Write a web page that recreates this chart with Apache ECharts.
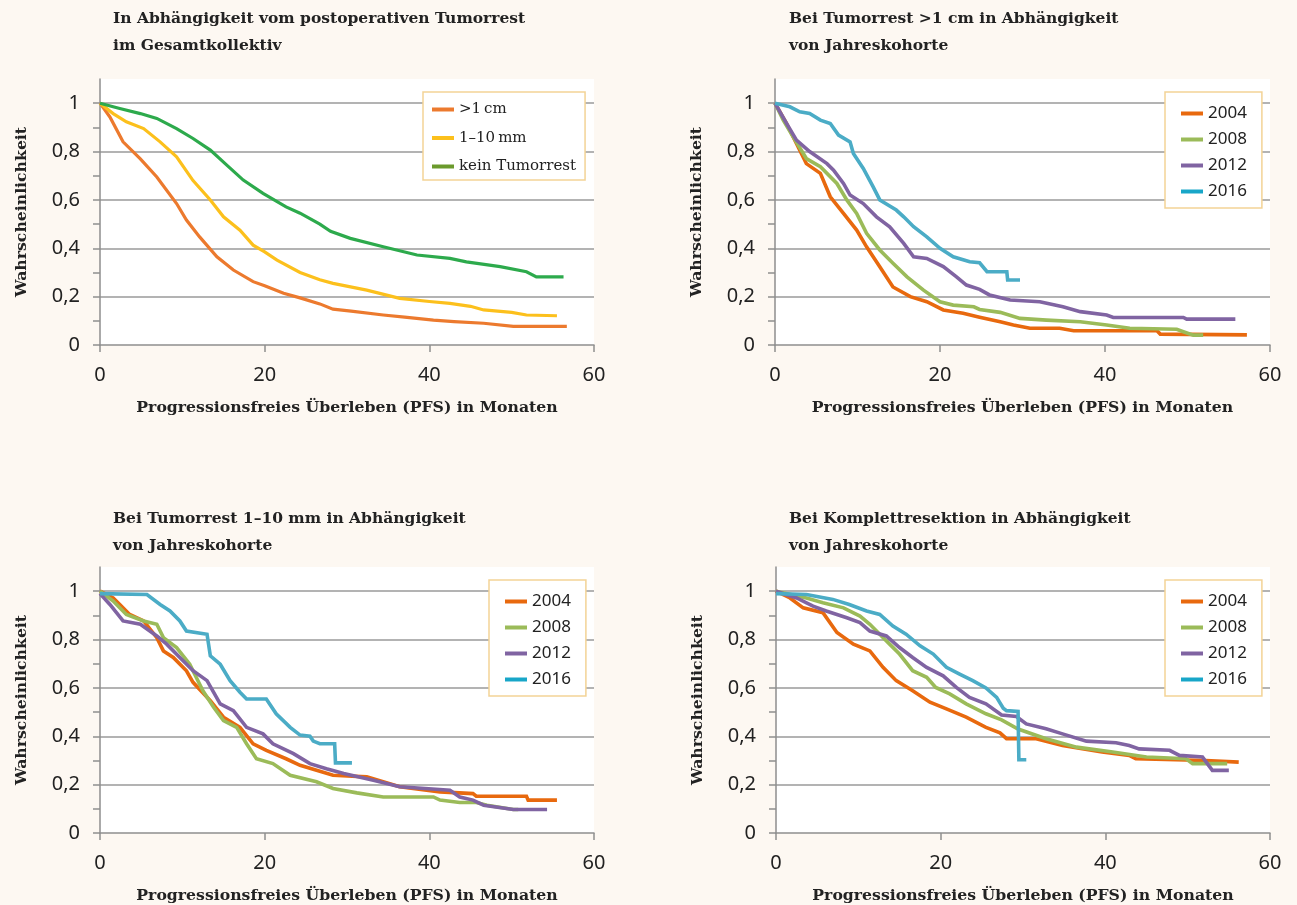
<!DOCTYPE html>
<html><head><meta charset="utf-8">
<script src="https://cdn.jsdelivr.net/npm/echarts@6/dist/echarts.min.js"></script>
<style>html,body{margin:0;padding:0;background:#fdf8f2;}#c{width:1297px;height:905px;}</style>
</head><body><div id="c"></div>
<script>
// ---- data ----
const xTicks = [0, 20, 40, 60];
const yLabelValues = [0, 0.2, 0.4, 0.6, 0.8, 1];
const yTickValues = [0, 0.1, 0.2, 0.3, 0.4, 0.5, 0.6, 0.7, 0.8, 0.9, 1];
const gridValues = [0.2, 0.4, 0.6, 0.8, 1];

const titles = [
  'In Abhängigkeit vom postoperativen Tumorrest\nim Gesamtkollektiv',
  'Bei Tumorrest >1 cm in Abhängigkeit\nvon Jahreskohorte',
  'Bei Tumorrest 1–10 mm in Abhängigkeit\nvon Jahreskohorte',
  'Bei Komplettresektion in Abhängigkeit\nvon Jahreskohorte'
];
const xName = 'Progressionsfreies Überleben (PFS) in Monaten';
const yName = 'Wahrscheinlichkeit';

const residualNames = ['>1\u2009cm', '1–10\u2009mm', 'kein Tumorrest'];
const cohortNames = ['2004', '2008', '2012', '2016'];

// Panel 1: by residual tumour
const p1_gt1cm = [[0,1],[1.2,0.943],[2.8,0.84],[4.9,0.77],[6.9,0.695],[9.3,0.585],[10.5,0.517],[12.1,0.447],[14.2,0.365],[16.2,0.31],[18.6,0.262],[20,0.245],[22.3,0.214],[24.3,0.195],[26.7,0.17],[28.3,0.148],[30.5,0.14],[34.4,0.124],[37,0.115],[40.5,0.103],[43,0.097],[46.6,0.09],[50.2,0.077],[56.7,0.077]];
const p1_1to10 = [[0,1],[1.6,0.957],[3.2,0.923],[5.3,0.895],[7.3,0.84],[9.3,0.778],[11.3,0.68],[13.4,0.6],[15,0.53],[17,0.475],[18.6,0.413],[20,0.385],[21.5,0.351],[24.3,0.3],[26.7,0.27],[28.3,0.255],[32.4,0.227],[36.4,0.193],[40,0.18],[42.5,0.172],[45,0.16],[46.6,0.145],[50,0.135],[51.8,0.124],[55.5,0.121]];
const p1_none = [[0,1],[2.4,0.978],[4.9,0.957],[6.9,0.937],[9.3,0.895],[11.3,0.854],[13.4,0.806],[15.4,0.744],[17.4,0.682],[19.8,0.627],[22.6,0.571],[24.3,0.545],[26.7,0.5],[28,0.47],[30.4,0.441],[34.4,0.406],[38.5,0.372],[42.5,0.358],[44.5,0.344],[48.6,0.324],[51.8,0.303],[53,0.282],[56.3,0.282]];

// Panel 2: residual >1 cm by cohort
const p2_2004 = [[0,1],[1.4,0.916],[2.6,0.833],[3.8,0.75],[5.5,0.71],[6.7,0.613],[8.3,0.544],[9.9,0.475],[11.1,0.406],[12.7,0.324],[14.3,0.24],[16.4,0.2],[18.4,0.179],[20.4,0.145],[22.8,0.131],[24.8,0.115],[27.3,0.096],[28.9,0.083],[30.9,0.069],[34.5,0.069],[36.2,0.059],[46.3,0.059],[46.7,0.045],[57.2,0.042]];
const p2_2008 = [[0,1],[1,0.93],[2.2,0.861],[3.8,0.771],[5.5,0.737],[7.5,0.668],[8.7,0.6],[9.9,0.544],[11.1,0.462],[12.7,0.393],[14.3,0.338],[16,0.282],[18,0.227],[20,0.179],[21.6,0.165],[24.1,0.158],[24.8,0.147],[27.3,0.135],[29.7,0.11],[32.9,0.103],[37,0.096],[40.2,0.083],[43,0.069],[48.7,0.065],[49.5,0.055],[50.7,0.041],[51.9,0.041]];
const p2_2012 = [[0,1],[1.4,0.916],[2.6,0.847],[4.2,0.8],[6.3,0.75],[7.1,0.723],[8.3,0.668],[9.1,0.62],[10.7,0.585],[12.3,0.53],[13.9,0.489],[15.6,0.42],[16.8,0.365],[18.4,0.358],[20.4,0.324],[22,0.282],[23.2,0.248],[24.8,0.23],[26,0.207],[28.5,0.186],[32.1,0.179],[34.9,0.158],[37,0.138],[40.2,0.124],[41,0.114],[49.5,0.114],[49.9,0.107],[55.8,0.107]];
const p2_2016 = [[0,1],[1.8,0.985],[3,0.964],[4.2,0.957],[5.5,0.93],[6.7,0.916],[7.7,0.868],[9.1,0.84],[9.5,0.792],[10.7,0.73],[11.9,0.654],[12.7,0.6],[14.7,0.558],[15.6,0.53],[16.8,0.489],[18.4,0.447],[20,0.4],[21.6,0.365],[23.6,0.344],[24.8,0.34],[25.7,0.303],[28.1,0.303],[28.2,0.269],[29.7,0.269]];

// Panel 3: residual 1-10 mm by cohort
const p3_2004 = [[0,1],[1.6,0.972],[2.4,0.945],[3.6,0.904],[5.3,0.877],[6.9,0.808],[7.7,0.753],[8.9,0.726],[10.5,0.671],[11.3,0.623],[13.4,0.547],[15,0.479],[17,0.437],[18.6,0.369],[20.2,0.342],[22.6,0.307],[24.3,0.28],[28.3,0.239],[32.4,0.232],[36.4,0.191],[41.3,0.17],[45.3,0.163],[45.7,0.152],[51.8,0.152],[52,0.136],[55.5,0.136]];
const p3_2008 = [[0,1],[1.6,0.959],[3.2,0.904],[5.3,0.877],[6.9,0.863],[7.7,0.808],[9.3,0.767],[10.9,0.698],[12.5,0.588],[13.8,0.52],[15,0.465],[16.6,0.437],[17.8,0.369],[19,0.307],[21,0.287],[23.1,0.239],[26.3,0.212],[28.3,0.184],[31.2,0.166],[34.4,0.149],[40.5,0.149],[41.3,0.136],[43.7,0.126],[45.7,0.126],[47,0.115],[50.2,0.097],[50.8,0.097]];
const p3_2012 = [[0,0.99],[1.2,0.945],[2.8,0.877],[4.9,0.863],[6.9,0.815],[8.1,0.781],[9.7,0.726],[11.3,0.671],[13,0.63],[14.6,0.534],[16.2,0.506],[17.8,0.437],[19.8,0.41],[21,0.369],[23.5,0.328],[25.5,0.287],[27.5,0.266],[29.6,0.246],[33.2,0.218],[36.4,0.191],[42.5,0.177],[43.7,0.149],[45.3,0.136],[46.6,0.115],[50.2,0.097],[54.3,0.097]];
const p3_2016 = [[0,0.99],[5.7,0.986],[7.3,0.945],[8.5,0.918],[9.7,0.877],[10.5,0.835],[13,0.822],[13.4,0.733],[14.6,0.698],[15.8,0.63],[17,0.582],[17.8,0.554],[20.2,0.554],[21.4,0.493],[23.1,0.437],[24.3,0.405],[25.5,0.4],[25.9,0.38],[26.7,0.369],[28.5,0.369],[28.6,0.29],[30.6,0.29]];

// Panel 4: complete resection by cohort
const p4_2004 = [[0,1],[1.7,0.972],[3.3,0.931],[5.7,0.911],[7.4,0.829],[9.4,0.781],[11.4,0.753],[13,0.685],[14.6,0.63],[16.6,0.588],[18.7,0.541],[20.7,0.513],[23.1,0.479],[25.5,0.437],[27.2,0.414],[28,0.39],[31.6,0.39],[34.8,0.362],[39.6,0.335],[42.9,0.321],[43.7,0.307],[52.2,0.3],[56.2,0.293]];
const p4_2008 = [[0,1],[3.7,0.972],[5.7,0.952],[8.2,0.931],[10.2,0.897],[11.4,0.863],[12.6,0.822],[13.8,0.781],[15,0.74],[16.6,0.671],[18.3,0.644],[19.4,0.602],[21.1,0.575],[23.1,0.534],[25.5,0.493],[27.4,0.468],[29.4,0.43],[32.8,0.39],[36.5,0.355],[40.9,0.335],[45,0.314],[49.8,0.307],[50.6,0.287],[54.8,0.287]];
const p4_2012 = [[0,1],[2.5,0.972],[4.5,0.938],[6.1,0.918],[8.6,0.89],[10.2,0.87],[11.4,0.835],[13.4,0.815],[15,0.767],[16.6,0.726],[18.3,0.685],[20.3,0.65],[21.9,0.602],[23.5,0.561],[25.5,0.534],[27.4,0.488],[29.2,0.482],[30.4,0.451],[32.8,0.431],[34.8,0.41],[37.7,0.38],[41.3,0.373],[42.9,0.362],[44.1,0.348],[47.8,0.342],[49,0.321],[51.8,0.314],[53,0.259],[55,0.259]];
const p4_2016 = [[0,0.99],[3.7,0.986],[6.9,0.966],[8.9,0.945],[11,0.918],[12.6,0.904],[14.2,0.856],[15.8,0.822],[17.5,0.774],[19.1,0.74],[20.7,0.685],[22.3,0.657],[23.9,0.63],[25.5,0.6],[26.8,0.561],[27.6,0.516],[28,0.506],[29.4,0.503],[29.5,0.303],[30.4,0.303]];

// ---- styles ----
const BG = '#fdf8f2';
const residualColors = ['#ec7a2e', '#fcc01c', '#2daa4c'];
const residualLegendColors = ['#ec7a2e', '#fcc01c', '#6b9a2c'];
const cohortColors = ['#e8690e', '#9bbb59', '#8064a2', '#4bacc6'];
const cohortLegendColors = ['#e8690e', '#9bbb59', '#8064a2', '#18a6c8'];
const slab = '"DejaVu Serif", serif';
const sans = '"Noto Sans", sans-serif';
const AXIS = '#8e8e8e';

const grids = [
  {left: 100, top: 79, width: 494, height: 266},
  {left: 775, top: 79, width: 495, height: 266},
  {left: 100, top: 567, width: 494, height: 266},
  {left: 776, top: 567, width: 494, height: 266}
];
const titlePos = [[113, 5], [789, 5], [113, 505], [789, 505]];

const option = {
  backgroundColor: BG,
  animation: false,
  title: titles.map((t, i) => ({
    text: t, left: titlePos[i][0], top: titlePos[i][1], padding: 0,
    textStyle: {fontFamily: slab, fontWeight: 'bold', fontSize: 15.5, lineHeight: 27, color: '#222'}
  })),
  grid: grids.map(g => Object.assign({show: true, backgroundColor: '#fff', borderWidth: 0, containLabel: false}, g)),
  xAxis: grids.map((g, i) => ({
    type: 'value', gridIndex: i, min: 0, max: 60, interval: 20,
    name: xName, nameLocation: 'middle', nameGap: 55,
    nameTextStyle: {fontFamily: slab, fontWeight: 'bold', fontSize: 15.7, color: '#222'},
    axisLine: {show: true, lineStyle: {color: AXIS, width: 1.5}},
    axisTick: {show: true, length: 7, lineStyle: {color: AXIS, width: 1.5}},
    axisLabel: {margin: 20, fontFamily: sans, fontSize: 20, color: '#222'},
    splitLine: {show: false}
  })),
  yAxis: [],
  legend: [],
  series: []
};

grids.forEach((g, i) => {
  option.yAxis.push({
    type: 'value', gridIndex: i, min: 0, max: 1.1,
    name: yName, nameLocation: 'middle', nameGap: 70,
    nameTextStyle: {fontFamily: slab, fontWeight: 'bold', fontSize: 15.7, color: '#222'},
    axisLine: {show: true, onZero: false, lineStyle: {color: AXIS, width: 1.5}},
    axisTick: {show: true, length: 7, customValues: yTickValues, lineStyle: {color: AXIS, width: 1.5}},
    axisLabel: {margin: 20, fontFamily: sans, fontSize: 20, color: '#222', customValues: yLabelValues,
      formatter: v => String(v).replace('.', ',')},
    splitLine: {show: false}
  });
  option.yAxis.push({
    type: 'value', gridIndex: i, min: 0, max: 1.1, position: 'left',
    axisLine: {show: false}, axisLabel: {show: false},
    axisTick: {show: false, customValues: gridValues},
    splitLine: {show: true, lineStyle: {color: '#9a9a9a', width: 1.5}}
  });
});

function addSeries(panel, name, data, color, width) {
  option.series.push({
    type: 'line', name: name, data: data, xAxisIndex: panel, yAxisIndex: panel * 2,
    showSymbol: false, symbol: 'none', silent: true,
    lineStyle: {color: color, width: width, join: 'miter'}, itemStyle: {color: color}
  });
}
[p1_gt1cm, p1_1to10, p1_none].forEach((d, k) => addSeries(0, residualNames[k], d, residualColors[k], 3.2));
[[p2_2004, p2_2008, p2_2012, p2_2016], [p3_2004, p3_2008, p3_2012, p3_2016], [p4_2004, p4_2008, p4_2012, p4_2016]]
  .forEach((set, pi) => set.forEach((d, k) => addSeries(pi + 1, cohortNames[k], d, cohortColors[k], 3.6)));

option.legend.push({
  orient: 'vertical', left: 423, top: 92, padding: [10, 9, 6, 9], itemGap: 13.5,
  itemWidth: 22, itemHeight: 4, icon: 'rect',
  backgroundColor: '#fff', borderColor: '#f3d396', borderWidth: 1.5, borderRadius: 0,
  textStyle: {fontFamily: slab, fontSize: 15, color: '#222'},
  data: residualNames.map((n, k) => ({name: n, itemStyle: {color: residualLegendColors[k]}}))
});
[[1165, 92], [489, 580], [1165, 580]].forEach(p => {
  option.legend.push({
    orient: 'vertical', left: p[0], top: p[1], padding: [13, 15, 8, 16], itemGap: 9,
    itemWidth: 22, itemHeight: 4, icon: 'rect',
    backgroundColor: '#fff', borderColor: '#f3d396', borderWidth: 1.5, borderRadius: 0,
    textStyle: {fontFamily: sans, fontSize: 17, color: '#222'},
    data: cohortNames.map((n, k) => ({name: n, itemStyle: {color: cohortLegendColors[k]}}))
  });
});

const chart = echarts.init(document.getElementById('c'), null, {renderer: 'canvas'});
chart.setOption(option);
</script></body></html>
